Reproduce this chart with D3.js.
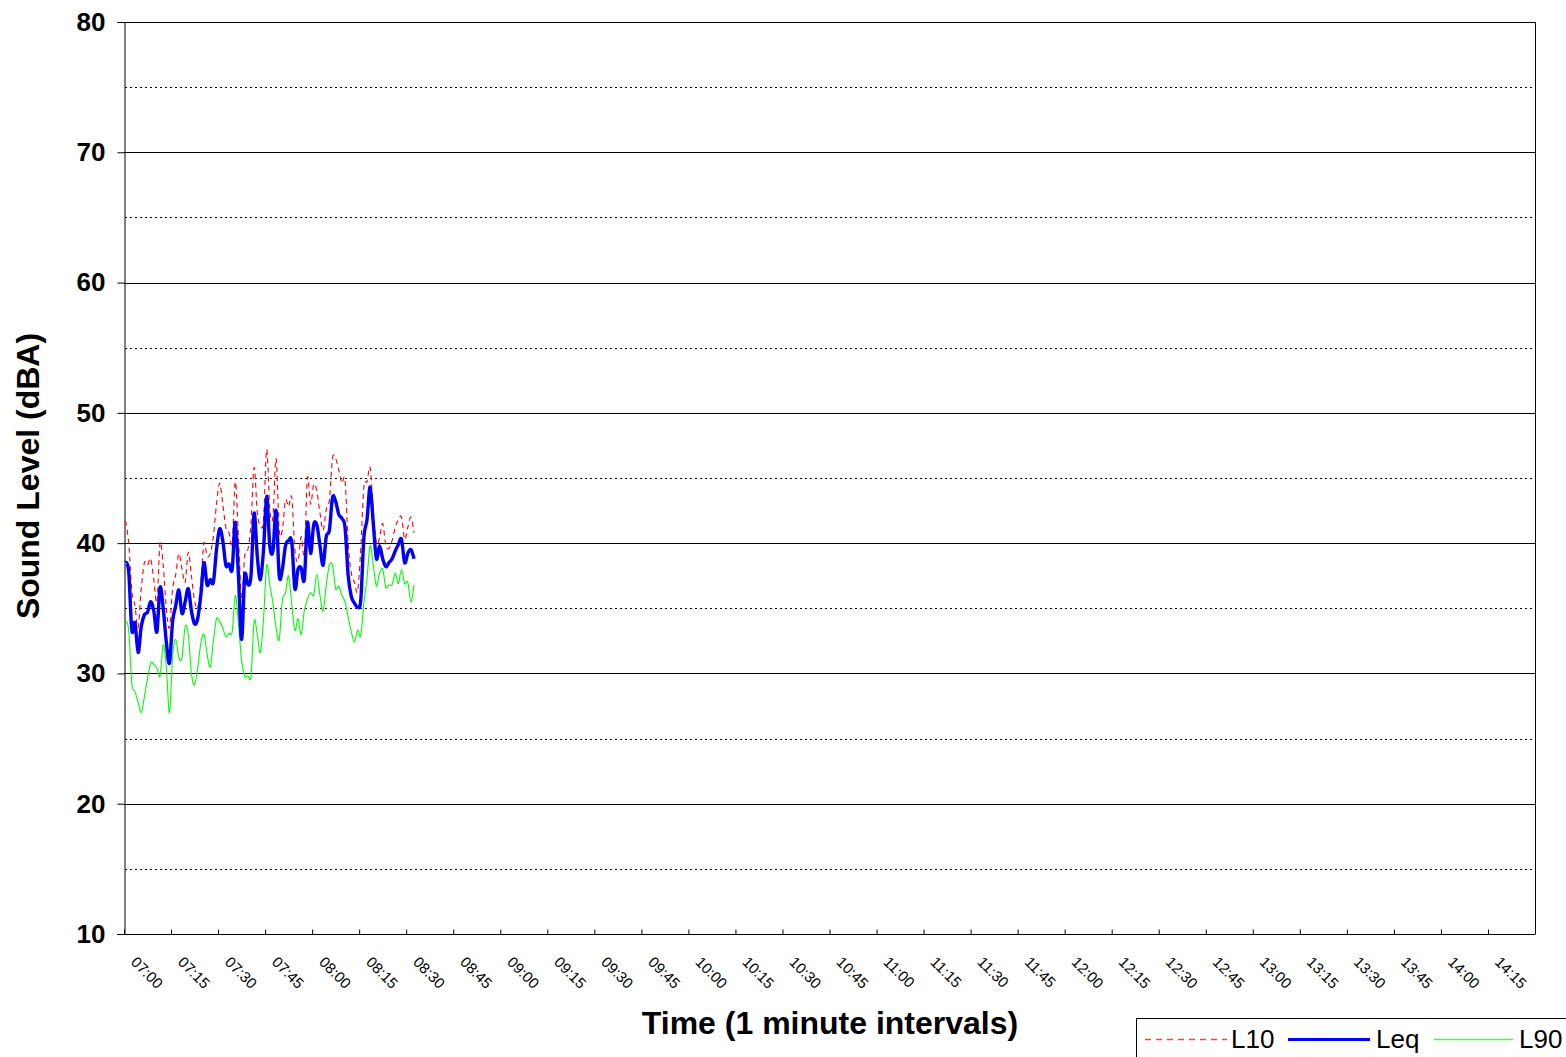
<!DOCTYPE html>
<html>
<head>
<meta charset="utf-8">
<script src="https://cdn.jsdelivr.net/npm/d3@7"></script>
<style>
  html, body { margin: 0; padding: 0; background: #fff; overflow: hidden; }
  svg { display: block; font-family: Arial, "Liberation Sans", sans-serif; }
</style>
</head>
<body>
<svg id="chart" width="1566" height="1057"></svg>
<script>
// ---- Data (1-minute intervals starting 07:00) ----
const startTime = "07:00";
const L10 = [41.7,40.0,36.3,35.2,33.5,36.5,38.5,38.3,38.8,37.2,35.5,40.0,38.3,35.0,33.5,
  36.5,37.6,39.2,38.0,37.0,39.3,37.5,35.6,35.0,37.0,40.0,39.0,39.2,40.5,43.0,44.6,
  43.0,41.2,40.8,40.0,44.7,40.5,35.8,39.0,39.5,41.5,45.8,42.4,41.3,41.8,47.2,42.6,
  42.0,46.5,41.0,41.0,43.3,42.8,43.5,39.5,38.6,40.5,39.2,45.0,43.0,44.5,44.0,42.3,
  41.0,42.6,43.3,46.5,46.5,45.6,44.6,44.8,40.0,37.7,37.0,36.3,39.5,44.3,44.7,45.8,
  42.5,40.0,40.4,41.5,39.8,39.6,40.2,41.2,41.8,42.0,40.3,41.2,42.0,40.8];
const Leq = [38.5,37.8,33.3,33.9,31.6,33.6,34.5,34.7,35.5,34.8,33.2,36.6,35.0,32.4,30.8,
  34.0,35.2,36.4,34.6,35.5,36.5,34.8,33.8,34.2,36.0,38.5,36.8,37.2,37.0,39.5,41.1,
  40.2,38.3,38.4,38.0,41.6,37.5,32.6,37.5,36.8,37.5,42.3,39.0,37.2,39.5,43.6,39.8,
  39.4,42.5,37.5,38.0,39.8,40.2,40.1,36.5,38.0,38.1,37.2,41.6,39.2,41.4,41.4,39.8,
  38.3,40.5,41.0,43.5,43.2,42.2,41.9,41.2,37.5,35.9,35.4,35.1,35.6,40.4,41.8,44.3,
  41.5,38.8,39.8,38.8,38.2,38.5,38.8,39.4,39.9,40.3,38.5,39.2,39.5,38.8];
const L90 = [34.0,33.3,29.2,28.6,27.8,27.0,28.2,29.6,30.8,30.7,30.4,29.8,32.2,30.5,27.0,
  31.3,32.6,31.2,31.2,33.6,33.0,30.0,29.1,30.4,32.3,33.0,31.5,30.5,32.5,34.2,34.0,
  33.5,32.8,33.1,33.2,36.0,33.8,31.0,29.8,29.8,29.8,34.0,33.0,31.6,34.2,38.3,36.8,
  35.4,33.5,32.6,35.6,36.2,37.5,35.3,33.3,34.2,33.0,34.8,35.7,36.2,36.0,37.6,36.0,
  34.8,36.8,38.3,38.3,36.5,36.7,36.0,35.5,34.3,33.2,32.4,33.3,32.9,35.4,37.3,39.8,
  38.3,36.7,37.7,38.0,36.6,36.8,36.8,37.7,36.9,38.0,36.9,37.0,35.5,36.8];
const timeLabels = ["07:00","07:15","07:30","07:45","08:00","08:15","08:30","08:45",
  "09:00","09:15","09:30","09:45","10:00","10:15","10:30","10:45","11:00","11:15",
  "11:30","11:45","12:00","12:15","12:30","12:45","13:00","13:15","13:30","13:45",
  "14:00","14:15"];
const yMajorTicks = [10,20,30,40,50,60,70,80];
const yMinorTicks = [15,25,35,45,55,65,75];
const seriesNames = ["L10","Leq","L90"];

// ---- Layout ----
const svg = d3.select("#chart");
const pL = 124, pR = 1535, pT = 22, pB = 934;
const minutesPerLabel = 15;
const totalMinutes = timeLabels.length * minutesPerLabel;

const x = d3.scaleLinear().domain([0, totalMinutes]).range([pL, pR]);
const y = d3.scaleLinear().domain([10, 80]).range([pB, pT]);

// minor dotted gridlines
svg.append("g").selectAll("line").data(yMinorTicks).join("line")
  .attr("x1", pL + 1).attr("x2", pR)
  .attr("y1", d => Math.round(y(d)) + 0.5).attr("y2", d => Math.round(y(d)) + 0.5)
  .attr("stroke", "#000").attr("stroke-width", 1).attr("stroke-dasharray", "2,3");

// major gridlines
svg.append("g").selectAll("line").data(yMajorTicks.filter(d => d > 10 && d < 80)).join("line")
  .attr("x1", pL).attr("x2", pR)
  .attr("y1", d => Math.round(y(d)) + 0.5).attr("y2", d => Math.round(y(d)) + 0.5)
  .attr("stroke", "#000").attr("stroke-width", 1);

// plot frame (top & right)
svg.append("path")
  .attr("d", `M${pL},${pT + 0.5}H${pR + 0.5}V${pB}`)
  .attr("fill", "none").attr("stroke", "#000").attr("stroke-width", 1);

// Y axis
const yAxis = d3.axisLeft(y).tickValues(yMajorTicks).tickSize(7).tickPadding(12)
  .tickFormat(d3.format("d"));
const gy = svg.append("g").attr("transform", `translate(${pL + 0.5},0)`).call(yAxis);
gy.select(".domain").attr("stroke", "#000");
gy.selectAll(".tick line").attr("stroke", "#000");
gy.selectAll(".tick text").attr("font-size", 26).attr("font-weight", "bold")
  .attr("fill", "#000").attr("font-family", "Arial, 'Liberation Sans', sans-serif");

// X axis (ticks inside, every 15 minutes)
const xTickVals = d3.range(0, totalMinutes + 1, minutesPerLabel);
const xAxis = d3.axisBottom(x).tickValues(xTickVals).tickSize(-5).tickFormat("");
const gx = svg.append("g").attr("transform", `translate(0,${pB + 0.5})`).call(xAxis);
gx.select(".domain").attr("stroke", "#000").attr("d", `M${pL - 7},0H${pR}`);
gx.selectAll(".tick line").attr("stroke", "#000");

// X tick labels, rotated 45°
svg.append("g").selectAll("text").data(timeLabels).join("text")
  .attr("transform", (d, i) => `translate(${x(i * minutesPerLabel) + 6},963) rotate(45)`)
  .attr("font-size", 15).attr("fill", "#000")
  .text(d => d);

// ---- Series ----
const line = d3.line()
  .x((d, i) => x(i + 0.5))
  .y(d => y(d))
  .curve(d3.curveCardinal.tension(0));

svg.append("path").datum(L90).attr("d", line)
  .attr("fill", "none").attr("stroke", "#00ff00").attr("stroke-width", 1.1);
svg.append("path").datum(L10).attr("d", line)
  .attr("fill", "none").attr("stroke", "#ff0000").attr("stroke-width", 1.1)
  .attr("stroke-dasharray", "5,4");
svg.append("path").datum(Leq).attr("d", line)
  .attr("fill", "none").attr("stroke", "#0000ff").attr("stroke-width", 3.4)
  .attr("stroke-linejoin", "round");

// ---- Axis titles ----
svg.append("text")
  .attr("transform", `translate(39,476) rotate(-90)`)
  .attr("text-anchor", "middle").attr("font-size", 32).attr("font-weight", "bold")
  .attr("fill", "#000").text("Sound Level (dBA)");
svg.append("text")
  .attr("x", 830).attr("y", 1034)
  .attr("text-anchor", "middle").attr("font-size", 32).attr("font-weight", "bold")
  .attr("fill", "#000").text("Time (1 minute intervals)");

// ---- Legend ----
const lg = svg.append("g");
lg.append("rect").attr("x", 1136.5).attr("y", 1018.5).attr("width", 440).attr("height", 60)
  .attr("fill", "#fff").attr("stroke", "#000").attr("stroke-width", 1);
const legendItems = [
  {name: seriesNames[0], color: "#ff4040", w: 1.5, dash: "6,5", x0: 1145, x1: 1227, tx: 1231},
  {name: seriesNames[1], color: "#0000ff", w: 3, dash: "none", x0: 1288, x1: 1370, tx: 1376},
  {name: seriesNames[2], color: "#40ff40", w: 1.5, dash: "none", x0: 1434, x1: 1513, tx: 1519}
];
legendItems.forEach(it => {
  lg.append("path").attr("d", `M${it.x0},1039.5H${it.x1}`)
    .attr("fill", "none")
    .style("stroke", it.color).style("stroke-width", it.w)
    .style("stroke-dasharray", it.dash);
  lg.append("text").attr("x", it.tx).attr("y", 1048).attr("font-size", 26)
    .attr("fill", "#000").text(it.name);
});
</script>
</body>
</html>
